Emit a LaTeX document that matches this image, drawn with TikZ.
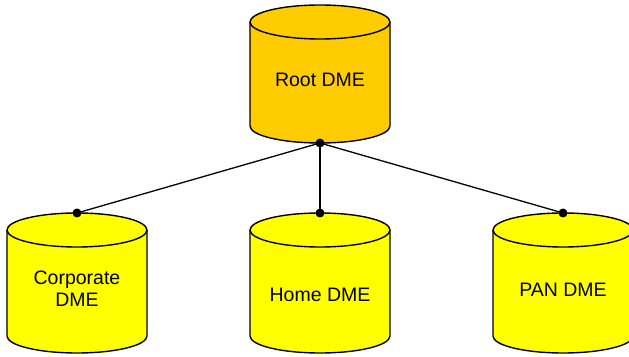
\documentclass[tikz,border=0pt]{standalone}
\usepackage{fontspec}
\setmainfont{Liberation Sans}
\definecolor{rootfill}{HTML}{FFCC00}
\definecolor{leaffill}{HTML}{FFFF00}
\tikzset{
  cyl/.style={draw=black, line width=1.4pt, line join=round},
  lbl/.style={font=\fontsize{19.5}{22}\selectfont, align=center, inner sep=0pt},
  link/.style={draw=black, line width=1.3pt},
  dot/.style={fill=black}
}
\newcommand{\mycyl}[4]{% cx, topy, boty, color
  \fill[#4] (#1-70,#2) -- (#1-70,#3) arc (180:360:70 and 17) -- (#1+70,#2) arc (0:180:70 and 17) -- cycle;
  \draw[cyl] (#1-70,#2) -- (#1-70,#3) arc (180:360:70 and 17) -- (#1+70,#2);
  \draw[cyl] (#1,#2) ellipse (70 and 17);
}
\begin{document}
\begin{tikzpicture}[x=1pt,y=1pt]
\useasboundingbox (0,0) rectangle (629,356);
\mycyl{320}{334}{230}{rootfill}
\mycyl{77}{126}{20}{leaffill}
\mycyl{320}{126}{20}{leaffill}
\mycyl{563}{126}{20}{leaffill}
\node[lbl] (root) at (320,276) {Root DME};
\node[lbl] (corp) at (77,67) {Corporate\\DME};
\node[lbl] (home) at (320,61) {Home DME};
\node[lbl] (pan) at (563,66) {PAN DME};
\coordinate (r) at (320,213);
\coordinate (c) at (77,143);
\coordinate (h) at (320,143);
\coordinate (p) at (563,143);
\draw[link] (r) -- (c);
\draw[link] (r) -- (h);
\draw[link] (r) -- (p);
\foreach \n in {r,c,h,p} \fill[dot] (\n) circle (4.5);
\end{tikzpicture}
\end{document}
